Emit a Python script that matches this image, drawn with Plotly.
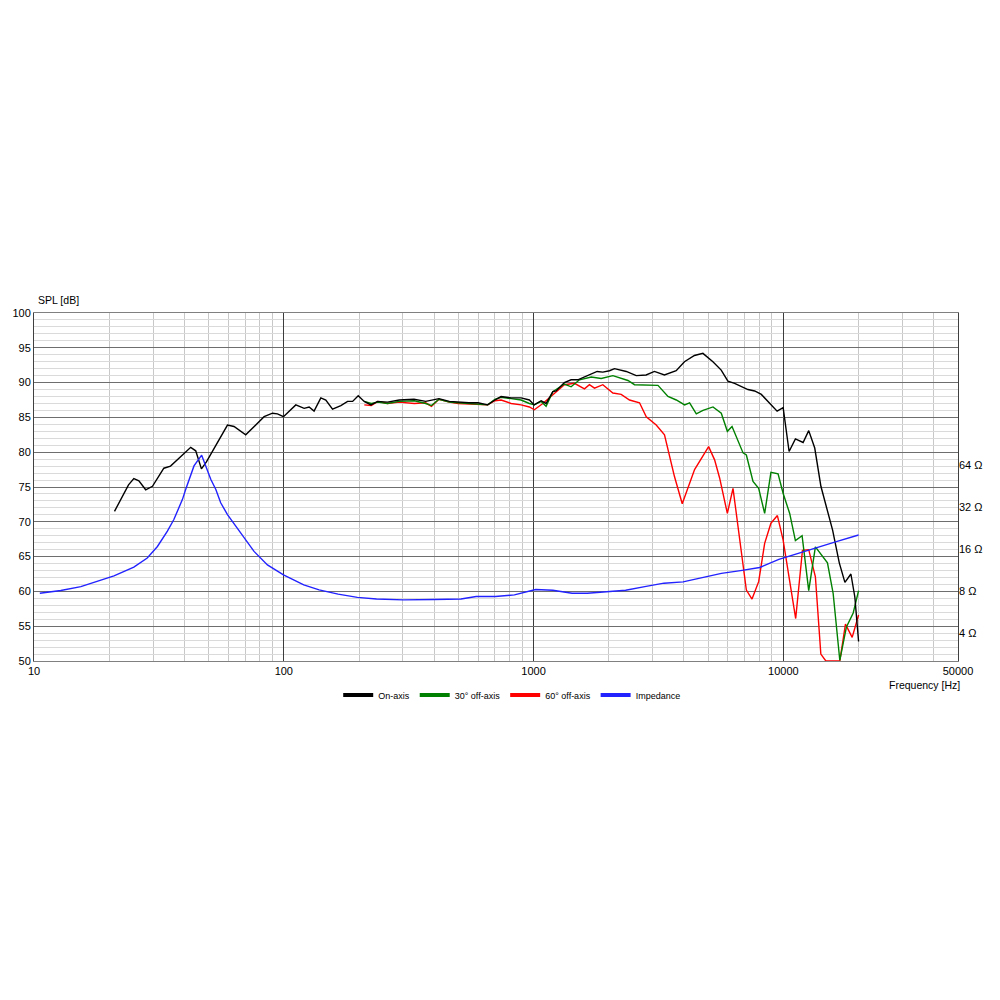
import plotly.graph_objects as go

# ---------------- data ----------------
on_f = [21.0, 23.9, 25.1, 26.3, 28.0, 29.8, 33.1, 35.2, 42.4, 44.4, 46.8, 49.0, 59.5, 63.2, 70.4,
        83.4, 90.1, 94.3, 99.7, 111.7, 120.6, 126.3, 132.2, 140.7, 147.3, 156.7, 169.2, 180.0, 188.6,
        198.6, 209.8, 223.3, 237.4, 260, 290, 332, 370, 399, 418, 460, 498, 550, 599, 655, 700, 741,
        813, 891, 962, 1005, 1072, 1122, 1194, 1231, 1328, 1413, 1503, 1598, 1796, 1893, 2013, 2108,
        2349, 2576, 2821, 3046, 3340, 3722, 4017, 4405, 4762, 5222, 5637, 5996, 6377, 7213, 7672,
        8161, 8810, 9438, 9977, 10540, 11170, 11990, 12630, 13350, 14130, 15740, 16740, 17630,
        18630, 19320, 20000]
on_db = [71.5, 75.3, 76.2, 75.9, 74.6, 75.1, 77.7, 78.0, 80.7, 80.2, 77.6, 78.6, 83.9, 83.7, 82.5,
         85.1, 85.6, 85.5, 85.1, 86.8, 86.3, 86.5, 85.9, 87.8, 87.5, 86.2, 86.7, 87.3, 87.3,
         88.1, 87.3, 86.8, 87.3, 87.2, 87.5, 87.6, 87.3, 87.6, 87.7, 87.3, 87.2, 87.1, 87.1, 86.8, 87.5, 88.0,
         87.8, 87.8, 87.5, 86.8, 87.4, 87.0, 88.7, 88.8, 90.0, 90.4, 90.4, 90.8, 91.6, 91.5, 91.7, 92.0,
         91.6, 91.0, 91.1, 91.6, 91.1, 91.7, 93.0, 93.9, 94.2, 93.0, 91.8, 90.2, 89.9, 89.0, 88.8,
         88.3, 87.1, 85.9, 86.4, 80.1, 81.9, 81.4, 83.1, 80.6, 75.1, 68.8, 64.1, 61.3,
         62.5, 59.2, 52.8]

off30_f = [210, 224, 238, 260, 290, 333, 370, 390, 418, 460, 499, 550, 597, 655, 700, 741, 813, 891,
           962, 1007, 1072, 1122, 1194, 1328, 1413, 1527, 1701, 1865, 2077, 2386, 2535, 3147, 3451,
           3726, 4022, 4212, 4481, 4765, 5226, 5641, 5965, 6229, 6894, 7108, 7557, 7962, 8414, 8914,
           9521, 9972, 10597, 11170, 11880, 12630, 13430, 15010, 15820, 16820, 17880, 19030, 20000]
off30_db = [87.3, 87.0, 87.2, 87.0, 87.3, 87.4, 87.0, 86.7, 87.6, 87.2, 87.1, 87.0, 86.9, 86.8, 87.6,
            87.9, 87.7, 87.5, 87.0, 86.8, 87.3, 86.6, 88.7, 89.8, 89.4, 90.4, 90.8, 90.6, 91.0, 90.3,
            89.7, 89.6, 88.0, 87.5, 86.8, 87.1, 85.5, 86.0, 86.5, 85.6, 83.0, 83.7, 79.9, 79.6, 75.8,
            74.8, 71.2, 77.1, 76.9, 74.1, 71.2, 67.3, 68.0, 60.1, 66.4, 64.1, 59.7, 50.1, 54.9,
            56.9, 60.1]

off60_f = [210, 224, 238, 260, 290, 333, 370, 390, 418, 460, 499, 550, 597, 655, 700, 741, 813, 891,
           962, 1007, 1089, 1194, 1328, 1457, 1598, 1673, 1753, 1893, 2077, 2242, 2421, 2655, 2825,
           3097, 3342, 3664, 3936, 4410, 5020, 5304, 5555, 5965, 6285, 7108, 7488, 7962, 8414, 8914,
           9462, 9972, 11200, 11920, 12630, 13430, 14120, 14790, 16820, 17720, 18850, 20000]
off60_db = [86.8, 86.7, 87.3, 87.0, 87.2, 87.0, 87.1, 86.6, 87.6, 87.2, 87.0, 86.9, 86.8, 86.8, 87.4,
            87.5, 87.0, 86.8, 86.5, 86.1, 87.0, 88.3, 89.7, 89.9, 89.1, 89.7, 89.2, 89.7, 88.5, 88.3,
            87.5, 87.1, 85.1, 83.9, 82.5, 76.5, 72.6, 77.5, 80.8, 78.9, 76.3, 71.2, 74.8, 60.2, 58.9,
            61.4, 66.9, 69.8, 70.9, 67.4, 56.1, 65.9, 66.0, 62.1, 51.0, 50.0, 50.0, 55.3, 53.4, 56.6]

imp_f = [10.55, 12.8, 15.4, 17.9, 20.9, 25.1, 28.4, 31.2, 34.2, 36.3, 39.3, 40.5, 43.7, 46.9, 49.4,
         51.0, 53.4, 55.9, 59.5, 67.3, 76.0, 86.0, 99.7, 120.2, 138.5, 165, 197, 235, 301, 399, 512,
         589, 703, 838, 933, 1019, 1194, 1425, 1641, 1958, 2336, 2786, 3325, 3966, 4732, 5647, 6735,
         8036, 9589, 11430, 13650, 16290, 20000]
imp_ohm = [7.7, 8.07, 8.6, 9.34, 10.27, 11.87, 13.8, 16.7, 21.5, 26.1, 36.4, 43.0, 63.3, 75.6, 59.9,
           50.7, 43.0, 34.4, 28.3, 20.9, 15.4, 12.3, 10.45, 8.85, 8.14, 7.6, 7.2, 7.0, 6.9, 6.95, 7.0,
           7.3, 7.3, 7.5, 7.9, 8.2, 8.1, 7.7, 7.7, 7.9, 8.1, 8.6, 9.1, 9.3, 10.0, 10.7, 11.2,
           11.8, 13.5, 14.9, 16.6, 18.1, 20.2]

series_names = ["On-axis", "30° off-axis", "60° off-axis", "Impedance"]
series_colors = ["#000000", "#008000", "#ff0000", "#2222ff"]

x_tickvals = [10, 100, 1000, 10000, 50000]
x_ticktext = ["10", "100", "1000", "10000", "50000"]
x_minor = [20, 30, 40, 50, 60, 70, 80, 90, 200, 300, 400, 500, 600, 700, 800, 900,
           2000, 3000, 4000, 5000, 6000, 7000, 8000, 9000, 20000, 30000, 40000]
z_tickvals = [4, 8, 16, 32, 64]
z_ticktext = ["4 Ω", "8 Ω", "16 Ω", "32 Ω", "64 Ω"]

# ---------------- figure ----------------
fig = go.Figure()
fig.add_trace(go.Scatter(x=off60_f, y=off60_db, mode="lines", name=series_names[2], showlegend=False,
                         line=dict(color=series_colors[2], width=1.4)))
fig.add_trace(go.Scatter(x=off30_f, y=off30_db, mode="lines", name=series_names[1], showlegend=False,
                         line=dict(color=series_colors[1], width=1.4)))
fig.add_trace(go.Scatter(x=on_f, y=on_db, mode="lines", name=series_names[0], showlegend=False,
                         line=dict(color=series_colors[0], width=1.4)))
fig.add_trace(go.Scatter(x=imp_f, y=imp_ohm, mode="lines", name=series_names[3], yaxis="y2",
                         showlegend=False, line=dict(color=series_colors[3], width=1.4)))

# legend-only entries with thick swatches
for i, (nm, col) in enumerate(zip(series_names, series_colors)):
    fig.add_trace(go.Scatter(x=[None], y=[None], mode="lines", name=nm, legendrank=i + 1,
                             line=dict(color=col, width=4), hoverinfo="skip"))

tickfont = dict(family="Liberation Sans, Arial, sans-serif", size=11, color="#000000")

fig.update_layout(
    width=1000, height=1000,
    margin=dict(l=26, r=50, t=305, b=347),
    paper_bgcolor="white", plot_bgcolor="white",
    showlegend=True,
    legend=dict(orientation="h", x=0.517, xanchor="center", y=-0.098, yanchor="middle",
                font=dict(family="Liberation Sans, Arial, sans-serif", size=9, color="#000000"),
                itemwidth=30, bgcolor="rgba(0,0,0,0)"),
    xaxis=dict(type="log", range=[1, 4.69897], tickvals=x_tickvals, ticktext=x_ticktext,
               showgrid=True, gridcolor="#3c3c3c", gridwidth=1, automargin=False,
               minor=dict(tickvals=x_minor, showgrid=True, gridcolor="#c8c8c8", gridwidth=1, ticks=""),
               showline=True, linecolor="#808080", linewidth=1, mirror=True,
               ticks="", tickfont=tickfont, zeroline=False),
    yaxis=dict(range=[50, 100], dtick=5, tick0=50, showgrid=True, gridcolor="#6e6e6e", gridwidth=1,
               minor=dict(dtick=1, showgrid=True, gridcolor="#dadada", gridwidth=1, ticks=""),
               showline=True, linecolor="#404040", linewidth=1, mirror=True, automargin=False,
               ticks="", tickfont=tickfont, zeroline=False),
    yaxis2=dict(overlaying="y", side="right", type="log", range=[0.4, 2.9], automargin=False,
                tickvals=z_tickvals, ticktext=z_ticktext, showgrid=False, zeroline=False,
                showline=False, ticks="", tickfont=tickfont),
    annotations=[
        dict(text="SPL [dB]", xref="paper", yref="paper", x=0, y=1.037, xanchor="left",
             yanchor="middle", xshift=2, showarrow=False,
             font=dict(family="Liberation Sans, Arial, sans-serif", size=10.5, color="#000000")),
        dict(text="Frequency [Hz]", xref="paper", yref="paper", x=1, y=-0.069, xanchor="right",
             yanchor="middle", xshift=4, showarrow=False,
             font=dict(family="Liberation Sans, Arial, sans-serif", size=10.5, color="#000000")),
    ],
)

fig.write_html("out.html")
